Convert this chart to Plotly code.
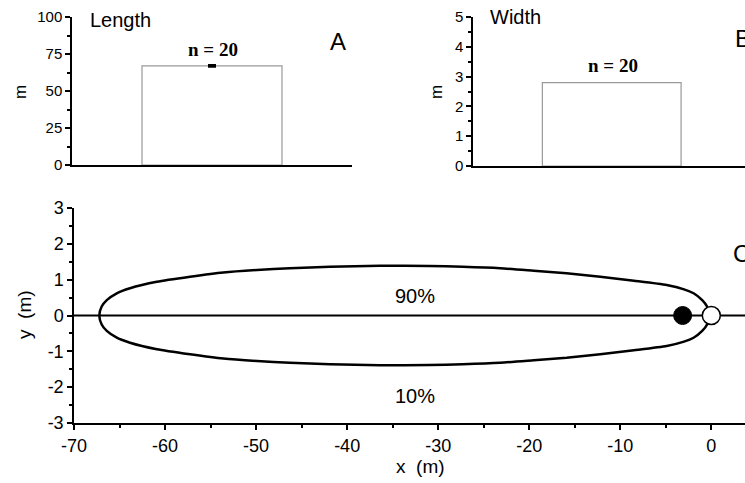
import plotly.graph_objects as go

W, H = 745, 483

# ---- data ----
length_mean = [67]
length_err = [0.4]
width_mean = [2.8]
n_label = "n = 20"

len_ticks = [0, 25, 50, 75, 100]
wid_ticks = [0, 1, 2, 3, 4, 5]
x_ticks = [-70, -60, -50, -40, -30, -20, -10, 0]
x_ticklabels = ["-70", "-60", "-50", "-40", "-30", "-20", "-10", "0"]
y_ticks = [-3, -2, -1, 0, 1, 2, 3]
y_ticklabels = ["-3", "-2", "-1", "0", "1", "2", "3"]

contour_x_upper = [-67.22, -66.96, -66.4, -65.3, -63.85, -60.9, -57.25, -53.6, -49.9, -46.3,
                   -41.9, -36.4, -31.0, -27.3, -23.2, -19.5, -15.9, -12.2, -8.5, -4.9,
                   -3.0, -1.95, -1.0, -0.47, -0.3]
contour_y_upper = [0, 0.25, 0.43, 0.62, 0.76, 0.94, 1.08, 1.20, 1.27, 1.32,
                   1.36, 1.39, 1.38, 1.36, 1.32, 1.25, 1.18, 1.08, 0.97, 0.85,
                   0.73, 0.62, 0.43, 0.25, 0]
contour_x_lower = [-0.3, -0.47, -1.0, -1.95, -3.0, -4.9, -8.5, -12.2, -15.9, -19.5,
                   -23.2, -27.3, -31.0, -36.4, -41.9, -46.3, -49.9, -53.6, -57.25, -60.9,
                   -63.85, -65.3, -66.4, -66.96, -67.22]
contour_y_lower = [0, -0.25, -0.43, -0.62, -0.73, -0.85, -0.97, -1.08, -1.18, -1.25,
                   -1.32, -1.36, -1.38, -1.39, -1.36, -1.32, -1.27, -1.20, -1.08, -0.94,
                   -0.76, -0.62, -0.43, -0.25, 0]
filled_pt = [-3.15, 0]
open_pt = [0, 0]

def px(x):
    return x / W

def py(y):
    return 1 - y / H

FONT = "Arial, Liberation Sans, sans-serif"
SERIF = "Times New Roman, Liberation Serif, serif"

fig = go.Figure()

# Panel A
fig.add_trace(go.Bar(x=[0.5], y=length_mean, width=[0.5],
                     marker=dict(color="white", line=dict(color="#999999", width=1.2)),
                     error_y=dict(type="data", array=length_err, arrayminus=length_err,
                                  color="black", thickness=2.5, width=4),
                     xaxis="x", yaxis="y", showlegend=False))
# Panel B
fig.add_trace(go.Bar(x=[0.51], y=width_mean, width=[0.51],
                     marker=dict(color="white", line=dict(color="#999999", width=1.2)),
                     xaxis="x2", yaxis="y2", showlegend=False))

# Panel C
fig.add_trace(go.Scatter(x=[-70, 3.7], y=[0, 0], mode="lines",
                         line=dict(color="black", width=2),
                         xaxis="x3", yaxis="y3", showlegend=False))
fig.add_trace(go.Scatter(x=contour_x_upper + contour_x_lower[1:],
                         y=contour_y_upper + contour_y_lower[1:],
                         mode="lines", line=dict(color="black", width=2.5, shape="spline", smoothing=0.6),
                         xaxis="x3", yaxis="y3", showlegend=False))
fig.add_trace(go.Scatter(x=[filled_pt[0]], y=[filled_pt[1]], mode="markers",
                         marker=dict(size=18, color="black", line=dict(color="black", width=1)),
                         xaxis="x3", yaxis="y3", showlegend=False))
fig.add_trace(go.Scatter(x=[open_pt[0]], y=[open_pt[1]], mode="markers",
                         marker=dict(size=18, color="white", line=dict(color="black", width=1.5)),
                         xaxis="x3", yaxis="y3", showlegend=False))

tickfont_top = dict(family=FONT, size=15, color="black")
tickfont_c = dict(family=FONT, size=18, color="black")

common_y = dict(ticks="outside", ticklen=5, tickwidth=1.5, tickcolor="black",
                showgrid=False, zeroline=False, showline=True, linecolor="black",
                linewidth=1.5, automargin=False)

fig.update_layout(
    width=W, height=H,
    margin=dict(l=0, r=0, t=0, b=0, autoexpand=False),
    paper_bgcolor="white", plot_bgcolor="white",
    xaxis=dict(domain=[px(72), px(352)], range=[0, 1], showticklabels=False, ticks="",
               showgrid=False, zeroline=False, showline=True, linecolor="black", linewidth=2,
               anchor="y", automargin=False),
    yaxis=dict(domain=[py(165), py(17)], range=[0, 100], tickvals=len_ticks,
               minor=dict(ticks="outside", ticklen=3, tickcolor="black", dtick=12.5, tick0=0),
               tickfont=tickfont_top, anchor="x", **common_y),
    xaxis2=dict(domain=[px(473), 1.0], range=[0, 1], showticklabels=False, ticks="",
                showgrid=False, zeroline=False, showline=True, linecolor="black", linewidth=2,
                anchor="y2", automargin=False),
    yaxis2=dict(domain=[py(166), py(17)], range=[0, 5], tickvals=wid_ticks,
                minor=dict(ticks="outside", ticklen=3, tickcolor="black", dtick=0.5, tick0=0),
                tickfont=tickfont_top, anchor="x2", **common_y),
    xaxis3=dict(domain=[px(74), 1.0], range=[-70, 3.7], tickvals=x_ticks, ticktext=x_ticklabels,
                ticks="outside", ticklen=5, tickwidth=1.5, tickcolor="black",
                minor=dict(ticks="outside", ticklen=3, tickcolor="black", dtick=5, tick0=0),
                showgrid=False, zeroline=False, showline=True, linecolor="black", linewidth=2,
                tickfont=tickfont_c, anchor="y3", automargin=False),
    yaxis3=dict(domain=[py(423), py(208)], range=[-3, 3], tickvals=y_ticks, ticktext=y_ticklabels,
                minor=dict(ticks="outside", ticklen=3, tickcolor="black", dtick=0.5, tick0=0),
                tickfont=tickfont_c, anchor="x3", **common_y),
)

def ann(text, x, y, size, family=FONT, angle=0, xanchor="center", bold=False):
    t = f"<b>{text}</b>" if bold else text
    fig.add_annotation(text=t, x=px(x), y=py(y), xref="paper", yref="paper",
                       showarrow=False, font=dict(family=family, size=size, color="black"),
                       textangle=angle, xanchor=xanchor, yanchor="middle")

ann("Length", 88, 20, 20, xanchor="left")
ann("A", 338, 42, 24)
ann(n_label, 213, 49, 19, family=SERIF, bold=True)
ann("m", 20, 92, 17, angle=-90)

ann("Width", 488, 17, 20, xanchor="left")
ann("B", 733, 38, 24, xanchor="left")
ann(n_label, 613, 65, 19, family=SERIF, bold=True)
ann("m", 436, 92, 17, angle=-90)

ann("C", 731, 254, 24, xanchor="left")
ann("90%", 415, 296, 20)
ann("10%", 415, 396, 20)
ann("y  (m)", 24, 315, 19, angle=-90)
ann("x  (m)", 420, 466, 19)

fig.write_html("out.html", config={"displayModeBar": False},
               post_script="document.body.style.margin='0';document.body.style.overflow='hidden';")
